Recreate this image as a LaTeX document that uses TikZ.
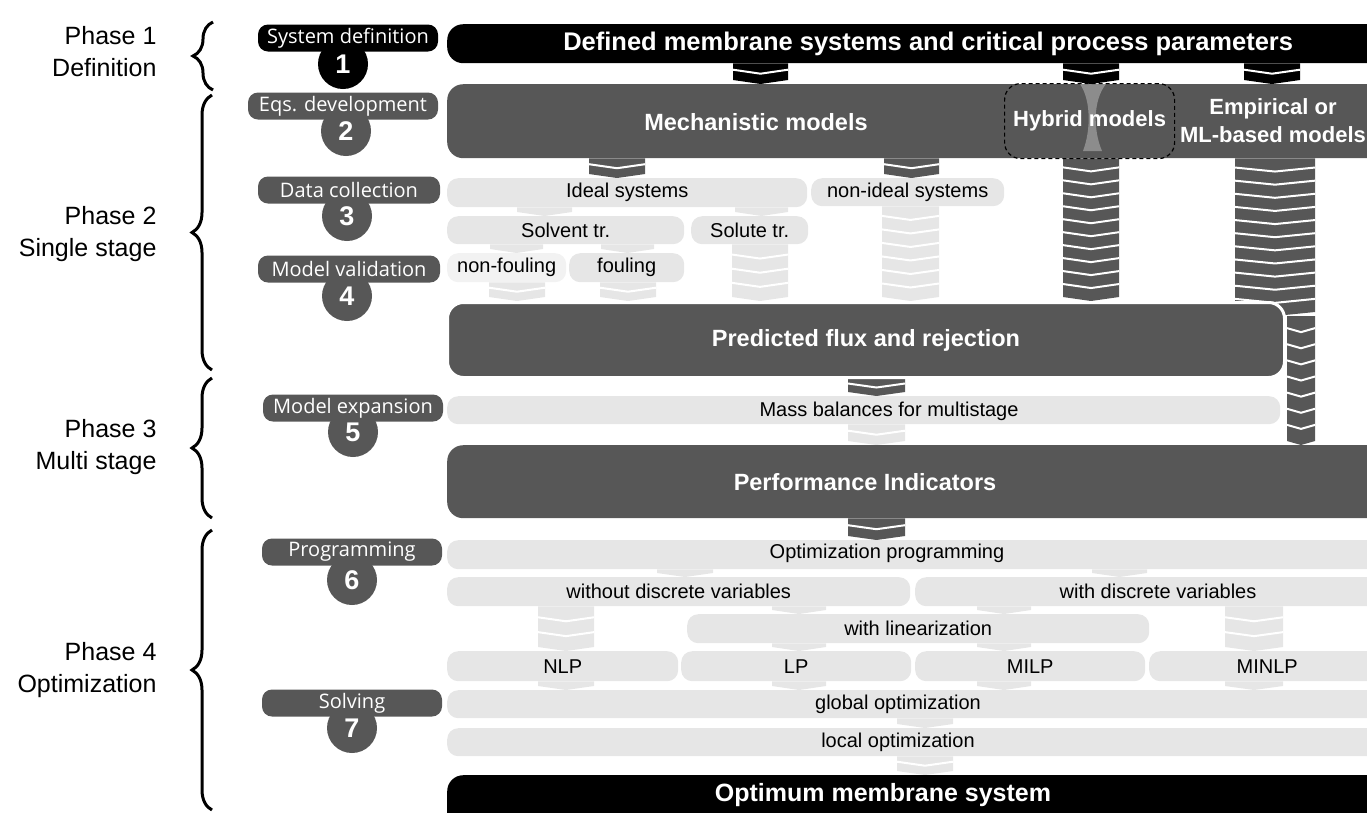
\documentclass[tikz,border=0pt]{standalone}
\usepackage{fontspec}
\setmainfont{Liberation Sans}
\newfontfamily\stepfont{Open Sans}
\usetikzlibrary{decorations.pathreplacing}

\definecolor{dgray}{HTML}{575757}
\definecolor{lgray}{HTML}{E6E6E6}
\definecolor{xlgray}{HTML}{F2F2F2}
\definecolor{igray}{HTML}{8C8C8C}

\pgfdeclarelayer{bg}
\pgfsetlayers{bg,main}

% striped column: colour, left x, right x, from, to, segments
\newcommand{\flow}[6]{%
  \path (#4) coordinate (flow-a) (#5) coordinate (flow-b);
  \pgfpointanchor{flow-a}{center}\pgfgetlastxy{\flowxa}{\flowya}%
  \pgfpointanchor{flow-b}{center}\pgfgetlastxy{\flowxb}{\flowyb}%
  \pgfmathsetmacro{\flowstep}{(\flowya-\flowyb)/#6}%
  \pgfmathsetmacro{\flowmid}{(#2+#3)/2}%
  \fill[#1] ({#2pt},\flowya) -- ({#3pt},\flowya) -- ({#3pt},{\flowyb+4pt})
    -- ({\flowmid pt},\flowyb) -- ({#2pt},{\flowyb+4pt}) -- cycle;
  \foreach \k in {1,...,#6}{\ifnum\k<#6
    \draw[white, line width=2pt] ({#2pt},{\flowya-\k*\flowstep+4pt})
      -- ({\flowmid pt},{\flowya-\k*\flowstep}) -- ({#3pt},{\flowya-\k*\flowstep+4pt});
  \fi}%
}

\begin{document}
\begin{tikzpicture}[x=1pt, y=-1pt,
    box/.style={inner sep=0pt, anchor=north west},
    darkbox/.style={box, fill=dgray, rounded corners=16pt, text=white, font=\bfseries\fontsize{23.5}{28}\selectfont},
    blackbox/.style={darkbox, fill=black},
    lightbar/.style={box, fill=lgray, rounded corners=11pt, font=\fontsize{20}{24}\selectfont},
    boldtext/.style={text=white, font=\bfseries\fontsize{23.5}{28}\selectfont},
    plaintext/.style={font=\fontsize{20}{24}\selectfont},
    steppill/.style={fill=dgray, rounded corners=10pt, text=white, minimum height=27pt, inner sep=0pt, font=\stepfont\fontsize{20}{22}\selectfont},
    stepnum/.style={circle, fill=dgray, minimum size=50pt, inner sep=0pt, text=white, font=\bfseries\fontsize{27}{30}\selectfont},
    phase/.style={anchor=east, align=right, font=\fontsize{25}{32}\selectfont},
    phasebrace/.style={decorate, decoration={brace, amplitude=20pt}, line width=3pt}
]
\useasboundingbox (0,0) rectangle (1367,812);
\clip (0,0) rectangle (1367,812);

% Phases
\node[phase] (ph1) at (160,52) {Phase 1\\Definition};
\node[phase] (ph2) at (160,234) {Phase 2\\Single stage};
\node[phase] (ph3) at (160,447) {Phase 3\\Multi stage};
\node[phase] (ph4) at (160,670) {Phase 4\\Optimization};
\draw[phasebrace] (213,90) -- (213,22);
\draw[phasebrace] (212,370) -- (212,95);
\draw[phasebrace] (212,518) -- (212,378);
\draw[phasebrace] (212,810) -- (212,530);

% Steps
\node[stepnum, fill=black] (num1) at (343,64) {1};
\node[steppill, fill=black, minimum width=180pt] (step1) at (348,38) {System definition};
\node[stepnum] (num2) at (346,131) {2};
\node[steppill, minimum width=190pt] (step2) at (343,106) {Eqs. development};
\node[stepnum] (num3) at (347,216) {3};
\node[steppill, minimum width=182pt] (step3) at (349,190) {Data collection};
\node[stepnum] (num4) at (347,296) {4};
\node[steppill, minimum width=182pt] (step4) at (349,269) {Model validation};
\node[stepnum] (num5) at (353,432) {5};
\node[steppill, minimum width=180pt] (step5) at (353,408) {Model expansion};
\node[stepnum] (num6) at (352,580) {6};
\node[steppill, minimum width=180pt] (step6) at (352,552) {Programming};
\node[stepnum] (num7) at (352,728) {7};
\node[steppill, minimum width=180pt] (step7) at (352,703) {Solving};

% Boxes
\node[blackbox, font=\bfseries\fontsize{25.5}{30}\selectfont, minimum width=962pt, minimum height=39pt] (defined) at (447,24) {Defined membrane systems and critical process parameters};
\node[darkbox, minimum width=960pt, minimum height=74pt] (mech) at (447,84) {};
\node[boldtext] (mech-t) at (756,122) {Mechanistic models};
\fill[igray] (1080,84) -- (1106,84) .. controls (1093,100) and (1093,130) .. (1102,151)
  -- (1083,151) .. controls (1091,130) and (1091,100) .. (1080,84) -- cycle;
\node[box, draw=black, dash pattern=on 4pt off 3pt, line width=1.2pt, rounded corners=16pt, minimum width=170pt, minimum height=75pt, text=white, font=\bfseries\fontsize{22}{26}\selectfont] (hybrid) at (1004,83) {Hybrid models};
\node[boldtext, font=\bfseries\fontsize{22}{28}\selectfont, align=center] (emp-t) at (1273,121) {Empirical or\\ML-based models};

\node[lightbar, minimum width=360pt, minimum height=29pt] (ideal) at (447,178) {Ideal systems};
\node[lightbar, minimum width=193pt, minimum height=28pt] (nonideal) at (811,178) {non-ideal systems};
\node[lightbar, minimum width=237pt, minimum height=28pt] (solvent) at (447,216) {Solvent tr.};
\node[lightbar, minimum width=117pt, minimum height=28pt] (solute) at (691,216) {Solute tr.};
\node[lightbar, fill=xlgray, minimum width=119pt, minimum height=29pt] (nonfoul) at (447,253) {non-fouling};
\node[lightbar, minimum width=115pt, minimum height=29pt] (foul) at (569,253) {fouling};

\node[darkbox, draw=white, line width=3pt, minimum width=837pt, minimum height=75pt] (pred) at (446,301) {Predicted flux and rejection};
\node[lightbar, minimum width=833pt, minimum height=28pt] (mass) at (447,396) {};
\node[plaintext] (mass-t) at (889,411) {Mass balances for multistage};
\node[darkbox, minimum width=960pt, minimum height=73pt] (perf) at (447,445) {};
\node[boldtext] (perf-t) at (865,482) {Performance Indicators};

\node[lightbar, minimum width=960pt, minimum height=29pt] (optprog) at (447,540) {};
\node[plaintext] (optprog-t) at (887,553) {Optimization programming};
\node[lightbar, minimum width=463pt, minimum height=29pt] (without) at (447,577) {without discrete variables};
\node[lightbar, minimum width=500pt, minimum height=29pt] (withdisc) at (915,577) {};
\node[plaintext] (withdisc-t) at (1158,591) {with discrete variables};
\node[lightbar, minimum width=462pt, minimum height=29pt] (withlin) at (687,614) {with linearization};
\node[lightbar, minimum width=231pt, minimum height=30pt] (nlp) at (447,651) {NLP};
\node[lightbar, minimum width=230pt, minimum height=30pt] (lp) at (681,651) {LP};
\node[lightbar, minimum width=230pt, minimum height=30pt] (milp) at (915,651) {MILP};
\node[lightbar, minimum width=236pt, minimum height=30pt] (minlp) at (1149,651) {MINLP};
\node[lightbar, minimum width=960pt, minimum height=28pt] (global) at (447,690) {};
\node[plaintext] (global-t) at (898,704) {global optimization};
\node[lightbar, minimum width=960pt, minimum height=28pt] (local) at (447,728) {};
\node[plaintext] (local-t) at (898,742) {local optimization};
\node[blackbox, minimum width=960pt, minimum height=60pt] (optimum) at (447,775) {};
\node[boldtext, font=\bfseries\fontsize{25}{28}\selectfont] (optimum-t) at (883,795) {Optimum membrane system};

\coordinate (empbend) at (1300,316);

% Connectors
\begin{pgfonlayer}{bg}
\flow{black}{733}{788}{defined.south}{mech.north}{2}
\flow{black}{1063}{1119}{defined.south}{mech.north}{2}
\flow{black}{1244}{1300}{defined.south}{mech.north}{2}
\flow{dgray}{589}{645}{mech.south}{ideal.north}{2}
\flow{dgray}{884}{939}{mech.south}{nonideal.north}{2}
\flow{dgray}{1063}{1119}{mech.south}{pred.north}{11}
\flow{dgray}{1235}{1315}{mech.south}{empbend}{12}
\flow{dgray}{1287}{1315}{empbend}{perf.north}{8}
\flow{lgray}{517}{572}{ideal.south}{solvent.north}{1}
\flow{lgray}{735}{788}{ideal.south}{solute.north}{1}
\flow{lgray}{490}{543}{solvent.south}{nonfoul.north}{1}
\flow{lgray}{601}{654}{solvent.south}{foul.north}{1}
\flow{lgray}{489}{545}{nonfoul.south}{pred.north}{2}
\flow{lgray}{600}{656}{foul.south}{pred.north}{2}
\flow{lgray}{732}{788}{solute.south}{pred.north}{4}
\flow{lgray}{882}{939}{nonideal.south}{pred.north}{7}
\flow{dgray}{848}{905}{pred.south}{mass.north}{2}
\flow{lgray}{848}{905}{mass.south}{perf.north}{2}
\flow{dgray}{848}{905}{perf.south}{optprog.north}{2}
\flow{lgray}{657}{713}{optprog.south}{without.north}{1}
\flow{lgray}{1092}{1147}{optprog.south}{withdisc.north}{1}
\flow{lgray}{538}{594}{without.south}{nlp.north}{3}
\flow{lgray}{772}{826}{without.south}{withlin.north}{1}
\flow{lgray}{977}{1031}{withdisc.south}{withlin.north}{1}
\flow{lgray}{1225}{1283}{withdisc.south}{minlp.north}{3}
\flow{lgray}{772}{826}{withlin.south}{lp.north}{1}
\flow{lgray}{977}{1031}{withlin.south}{milp.north}{1}
\flow{lgray}{538}{594}{nlp.south}{global.north}{1}
\flow{lgray}{772}{826}{lp.south}{global.north}{1}
\flow{lgray}{977}{1031}{milp.south}{global.north}{1}
\flow{lgray}{1225}{1283}{minlp.south}{global.north}{1}
\flow{lgray}{897}{953}{global.south}{local.north}{1}
\flow{lgray}{897}{953}{local.south}{optimum.north}{2}
\end{pgfonlayer}

\end{tikzpicture}
\end{document}
